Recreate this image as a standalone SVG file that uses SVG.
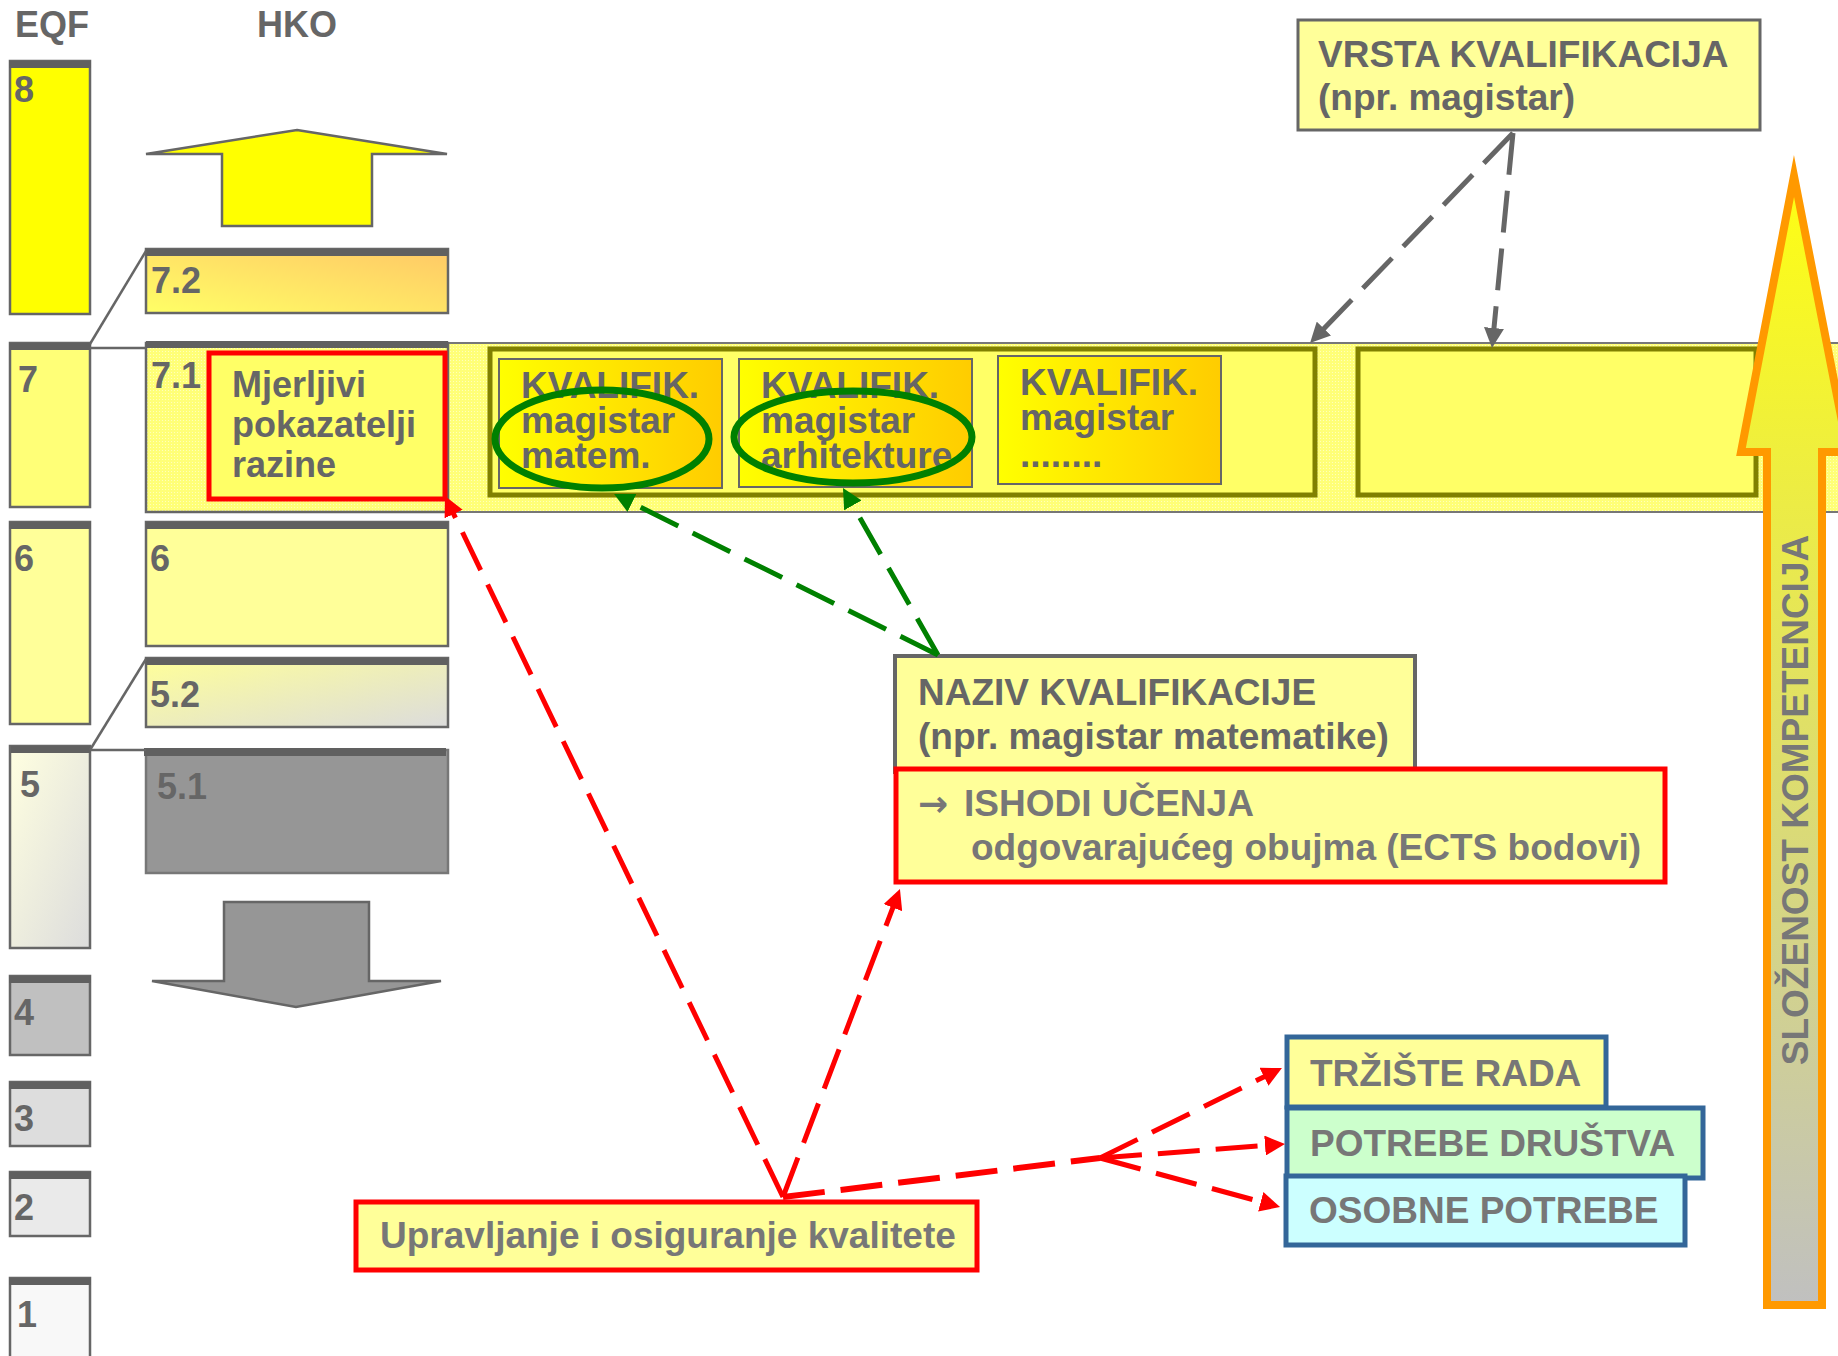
<svg xmlns="http://www.w3.org/2000/svg" width="1838" height="1356" viewBox="0 0 1838 1356">
<defs>
<style>
.t{font-family:"Liberation Sans",Arial,sans-serif;font-weight:bold;fill:#666;font-size:37px;}
.t2{font-family:"Liberation Sans",Arial,sans-serif;font-weight:bold;fill:#777;font-size:37px;}
.n{font-family:"Liberation Sans",Arial,sans-serif;font-weight:bold;fill:#666;font-size:36px;}
.box{stroke:#666;stroke-width:2.5;}
.bar{fill:#606060;}
.olive{fill:#ffff66;stroke:#808000;stroke-width:5;}
.kv{fill:url(#gKv);stroke:#666;stroke-width:2;}
.blue{stroke:#336699;stroke-width:5;}
.lnk{fill:none;stroke:#666;stroke-width:2.5;}
.dr{fill:none;stroke:#ff0000;stroke-width:5;stroke-dasharray:42 16;marker-end:url(#mr);}
.dg{fill:none;stroke:#008000;stroke-width:5;stroke-dasharray:42 16;marker-end:url(#mg);}
.dk{fill:none;stroke:#666;stroke-width:5;stroke-dasharray:42 16;marker-end:url(#mk);}
</style>
<linearGradient id="g72" x1="0" y1="1" x2="1" y2="0"><stop offset="0" stop-color="#ffff66"/><stop offset="1" stop-color="#ffc866"/></linearGradient>
<linearGradient id="g52" x1="0" y1="0" x2="1" y2="1"><stop offset="0" stop-color="#ffff99"/><stop offset="1" stop-color="#dcdcdc"/></linearGradient>
<linearGradient id="g5" x1="0" y1="0" x2="1" y2="1"><stop offset="0" stop-color="#ffffe0"/><stop offset="1" stop-color="#dcdcdc"/></linearGradient>
<linearGradient id="gKv" x1="0" y1="0" x2="1" y2="0"><stop offset="0" stop-color="#ffff00"/><stop offset="1" stop-color="#ffcc00"/></linearGradient>
<linearGradient id="gBig" gradientUnits="userSpaceOnUse" x1="0" y1="160" x2="0" y2="1305"><stop offset="0" stop-color="#ffff10"/><stop offset="1" stop-color="#c0c0c0"/></linearGradient>
<pattern id="pBand" width="3" height="3" patternUnits="userSpaceOnUse"><rect width="3" height="3" fill="#ffff77"/><rect width="1" height="1" fill="#ffffbb"/></pattern>
<marker id="mr" viewBox="0 0 20 20" refX="10" refY="10" markerWidth="20" markerHeight="20" markerUnits="userSpaceOnUse" orient="auto"><path d="M0,0 L20,10 L0,20 z" fill="#ff0000"/></marker>
<marker id="mg" viewBox="0 0 20 20" refX="10" refY="10" markerWidth="20" markerHeight="20" markerUnits="userSpaceOnUse" orient="auto"><path d="M0,0 L20,10 L0,20 z" fill="#008000"/></marker>
<marker id="mk" viewBox="0 0 20 20" refX="10" refY="10" markerWidth="20" markerHeight="20" markerUnits="userSpaceOnUse" orient="auto"><path d="M0,0 L20,10 L0,20 z" fill="#666"/></marker>
</defs>
<rect width="1838" height="1356" fill="#ffffff"/>

<g id="titles">
<text class="n" x="15" y="37">EQF</text>
<text class="n" x="257" y="37">HKO</text>
</g>

<g id="band">
<rect x="146" y="343" width="1700" height="169" fill="url(#pBand)" stroke="#777" stroke-width="2"/>
</g>

<g id="eqf-8"><rect class="box" x="10" y="61" width="80" height="253" fill="#ffff00"/><rect class="bar" x="9" y="61" width="82" height="7"/><text class="n" x="14" y="102">8</text></g>
<g id="eqf-7"><rect class="box" x="10" y="343" width="80" height="164" fill="#ffff77"/><rect class="bar" x="9" y="343" width="82" height="7"/><text class="n" x="18" y="392">7</text></g>
<g id="eqf-6"><rect class="box" x="10" y="522" width="80" height="202" fill="#ffff99"/><rect class="bar" x="9" y="522" width="82" height="7"/><text class="n" x="14" y="571">6</text></g>
<g id="eqf-5"><rect class="box" x="10" y="746" width="80" height="202" fill="url(#g5)"/><rect class="bar" x="11" y="746" width="80" height="7"/><text class="n" x="20" y="797">5</text></g>
<g id="eqf-4"><rect class="box" x="10" y="976" width="80" height="79" fill="#c0c0c0"/><rect class="bar" x="9" y="976" width="82" height="7"/><text class="n" x="14" y="1025">4</text></g>
<g id="eqf-3"><rect class="box" x="10" y="1082" width="80" height="64" fill="#dddddd"/><rect class="bar" x="9" y="1082" width="82" height="7"/><text class="n" x="14" y="1131">3</text></g>
<g id="eqf-2"><rect class="box" x="10" y="1172" width="80" height="64" fill="#eaeaea"/><rect class="bar" x="9" y="1172" width="82" height="7"/><text class="n" x="14" y="1220">2</text></g>
<g id="eqf-1"><rect class="box" x="10" y="1278" width="80" height="100" fill="#f8f8f8"/><rect class="bar" x="9" y="1278" width="82" height="7"/><text class="n" x="17" y="1327">1</text></g>

<g id="hko-up"><polygon points="297,130 447,154 372,154 372,226 222,226 222,154 146,154" fill="#ffff00" stroke="#666" stroke-width="2.5"/></g>
<g id="hko-72"><rect class="box" x="146" y="249" width="302" height="64" fill="url(#g72)"/><rect class="bar" x="146" y="249" width="302" height="7"/><text class="n" x="151" y="293">7.2</text></g>
<g id="hko-71"><rect class="box" x="146" y="343" width="302" height="169" fill="none"/><rect class="bar" x="146" y="341" width="302" height="7"/><text class="n" x="151" y="388">7.1</text></g>
<g id="hko-6"><rect class="box" x="146" y="522" width="302" height="124" fill="#ffff99"/><rect class="bar" x="146" y="522" width="302" height="7"/><text class="n" x="150" y="571">6</text></g>
<g id="hko-52"><rect class="box" x="146" y="658" width="302" height="69" fill="url(#g52)"/><rect class="bar" x="146" y="658" width="302" height="7"/><text class="n" x="150" y="707">5.2</text></g>
<g id="hko-51"><rect x="146" y="750" width="302" height="123" fill="#969696" stroke="#777" stroke-width="2.5"/><rect class="bar" x="144" y="748" width="302" height="8"/><text class="n" x="157" y="799">5.1</text></g>
<g id="hko-down"><polygon points="224,902 369,902 369,981 441,981 296,1007 152,981 224,981" fill="#969696" stroke="#666" stroke-width="2.5"/></g>

<g id="level-links">
<line class="lnk" x1="90" y1="344" x2="146" y2="251"/>
<line class="lnk" x1="90" y1="348" x2="146" y2="348"/>
<line class="lnk" x1="90" y1="750" x2="146" y2="659"/>
<line class="lnk" x1="90" y1="750" x2="146" y2="750"/>
</g>

<g id="mjerljivi">
<rect x="209" y="353" width="236" height="146" fill="#ffff66" stroke="#ff0000" stroke-width="5"/>
<text class="t" style="font-size:36px" x="232" y="397">Mjerljivi</text>
<text class="t" style="font-size:36px" x="232" y="437">pokazatelji</text>
<text class="t" style="font-size:36px" x="232" y="477">razine</text>
</g>

<g id="frame-1"><rect class="olive" x="490" y="349" width="825" height="146"/></g>
<g id="frame-2"><rect class="olive" x="1358" y="349" width="398" height="146"/></g>

<g id="kv-1">
<rect class="kv" x="499" y="359" width="223" height="129"/>
<text class="t" x="521" y="398">KVALIFIK.</text>
<text class="t" x="521" y="433">magistar</text>
<text class="t" x="521" y="468">matem.</text>
</g>
<g id="kv-2">
<rect class="kv" x="739" y="359" width="233" height="128"/>
<text class="t" x="761" y="398">KVALIFIK.</text>
<text class="t" x="761" y="433">magistar</text>
<text class="t" x="761" y="468">arhitekture</text>
</g>
<g id="kv-3">
<rect class="kv" x="998" y="356" width="223" height="128"/>
<text class="t" x="1020" y="395">KVALIFIK.</text>
<text class="t" x="1020" y="430">magistar</text>
<text class="t" x="1020" y="467">........</text>
</g>
<g id="ellipses">
<ellipse cx="602" cy="439" rx="107" ry="49" fill="none" stroke="#008000" stroke-width="7"/>
<ellipse cx="853" cy="437" rx="119" ry="46" fill="none" stroke="#008000" stroke-width="7"/>
</g>

<g id="vrsta">
<rect x="1298" y="20" width="462" height="110" fill="#ffff99" stroke="#666" stroke-width="3"/>
<text class="t" x="1318" y="67">VRSTA KVALIFIKACIJA</text>
<text class="t" x="1318" y="110">(npr. magistar)</text>
</g>

<g id="naziv">
<rect x="895" y="656" width="520" height="116" fill="#ffff99" stroke="#666" stroke-width="4"/>
<text class="t" x="918" y="705">NAZIV KVALIFIKACIJE</text>
<text class="t" x="918" y="749">(npr. magistar matematike)</text>
</g>

<g id="ishodi">
<rect x="896" y="769" width="769" height="113" fill="#ffff99" stroke="#ff0000" stroke-width="5"/>
<text class="t2" x="918" y="816"><tspan style="font-family:'DejaVu Sans',sans-serif;font-size:36px">→</tspan><tspan x="964">ISHODI UČENJA</tspan></text>
<text class="t2" x="971" y="860">odgovarajućeg obujma (ECTS bodovi)</text>
</g>

<g id="upravljanje">
<rect x="356" y="1202" width="621" height="68" fill="#ffff99" stroke="#ff0000" stroke-width="5"/>
<text class="t2" x="380" y="1248">Upravljanje i osiguranje kvalitete</text>
</g>

<g id="trziste">
<rect class="blue" x="1287" y="1037" width="319" height="70" fill="#ffff99"/>
<text class="t2" x="1310" y="1086">TRŽIŠTE RADA</text>
</g>
<g id="potrebe">
<rect class="blue" x="1287" y="1108" width="416" height="70" fill="#ccffcc"/>
<text class="t2" x="1310" y="1156">POTREBE DRUŠTVA</text>
</g>
<g id="osobne">
<rect class="blue" x="1286" y="1176" width="399" height="69" fill="#ccffff"/>
<text class="t2" x="1309" y="1223">OSOBNE POTREBE</text>
</g>

<g id="slozenost">
<polygon points="1794,176 1848,452 1822,452 1822,1305 1767,1305 1767,452 1741,452" fill="url(#gBig)" stroke="#ff9900" stroke-width="8" stroke-miterlimit="10"/>
<text class="t2" transform="translate(1808,800) rotate(-90)" text-anchor="middle">SLOŽENOST KOMPETENCIJA</text>
</g>

<g id="connectors">
<path class="dk" d="M1513,133 L1317,335.8"/>
<path class="dk" d="M1513,133 L1493,338"/>
<path class="dg" d="M938,655 L623,498.5"/>
<path class="dg" d="M938,655 L847.9,496.7"/>
<path class="dr" d="M783,1197 L449.3,505"/>
<path class="dr" d="M783,1197 L896.4,898.3"/>
<path d="M783,1197 L1100,1158" fill="none" stroke="#ff0000" stroke-width="6" stroke-dasharray="42 16"/>
<path class="dr" d="M1100,1158 L1273,1072.4"/>
<path class="dr" d="M1100,1158 L1275,1144.8"/>
<path class="dr" d="M1100,1158 L1270.4,1204.4"/>
</g>
</svg>
